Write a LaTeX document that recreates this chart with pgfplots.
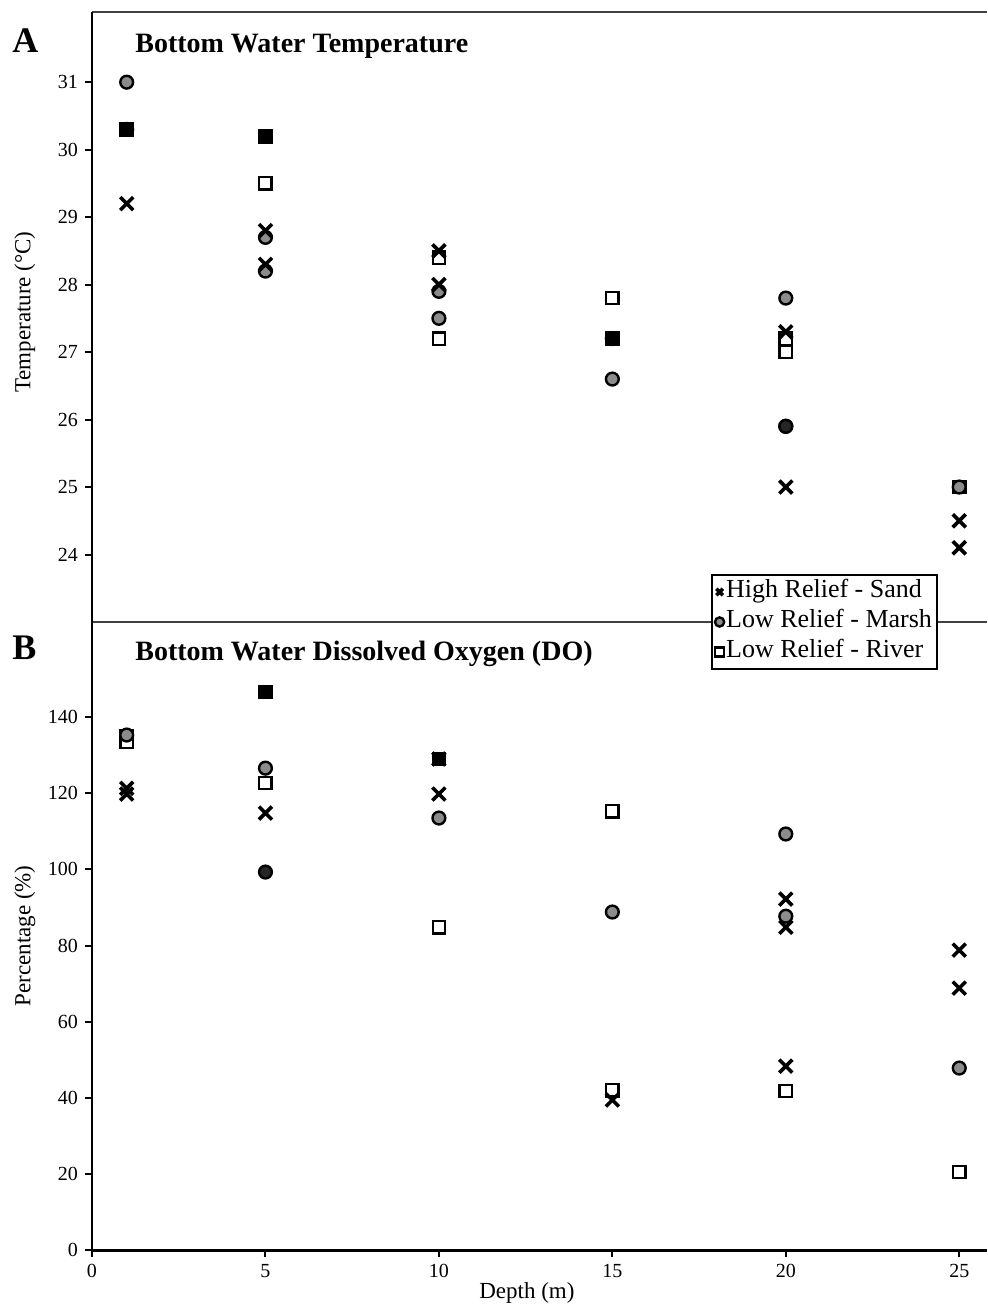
\documentclass[border=0pt]{standalone}
\usepackage{fontspec}
\setmainfont{Liberation Serif}
\usepackage{pgfplots}
\pgfplotsset{compat=1.18}
\definecolor{markgray}{RGB}{140,140,140}
\begin{document}
\begin{tikzpicture}
\useasboundingbox (-46pt,-28.5pt) rectangle (447.5pt,625pt);
\pgfplotsset{
  common/.style={
    scale only axis, width=447.5pt, xmin=0, xmax=25.8,
    axis y line*=left,
    every outer x axis line/.append style={-},
    every outer y axis line/.append style={-},
    every inner x axis line/.append style={-},
    every inner y axis line/.append style={-},
    tick align=outside, major tick length=3.5pt,
    tick style={black, line width=1pt},
    tick label style={font=\fontsize{10}{12}\selectfont},
    /pgf/number format/assume math mode=true,
    label style={font=\fontsize{11.5}{13}\selectfont},
    clip=false,
  },
  sq/.style={only marks, mark=square*, mark size=3.1pt, mark options={fill=white, draw=black, line width=1.2pt}},
  ci/.style={only marks, mark=*, mark size=3.2pt, mark options={fill=markgray, draw=black, line width=1.2pt}},
  xx/.style={only marks, mark=x, mark size=4.6pt, mark options={draw=black, line width=1.8pt}},
  dsq/.style={only marks, mark=square*, mark size=3.1pt, mark options={fill=black, draw=black, line width=1.2pt}},
  dci/.style={only marks, mark=*, mark size=3.2pt, mark options={fill=black!85, draw=black, line width=1.2pt}},
}
% ---------- Panel A ----------
\begin{axis}[common,
  at={(0pt,314pt)}, anchor=south west, height=305pt,
  ymin=23, ymax=32.04, ytick={24,25,...,31}, xtick=\empty,
  axis x line*=box,
  x axis line style={line width=1.2pt, draw=black!75},
  y axis line style={line width=1pt},
  ylabel={Temperature (\textdegree C)},
  ylabel style={at={(axis description cs:-0.0749,0.508)}, anchor=center, rotate=0},
  reverse legend,
  legend cell align=left,
  legend image code/.code={\draw[#1, mark size=2.3pt, line width=1pt] plot coordinates {(0.1cm,0cm)};},
  legend style={at={(axis description cs:0.6916,0.0787)}, anchor=north west,
    font=\fontsize{13}{15}\selectfont, draw=black, line width=1pt, fill=white,
    inner xsep=1.5pt, inner ysep=1pt, row sep=0pt, column sep=0pt,
    nodes={inner sep=1pt, text height=9.5pt, text depth=3.5pt}},
]
\addplot[sq] coordinates {(1,30.3) (5,30.2) (5,29.5) (10,28.4) (10,27.2) (15,27.8) (15,27.2) (20,27.2) (20,27.0) (25,25.0)};
\addlegendentry{Low Relief - River}
\addplot[ci] coordinates {(1,31.0) (1,30.3) (5,28.7) (5,28.2) (10,27.9) (10,27.5) (15,26.6) (15,27.2) (20,27.8) (20,25.9) (25,25.0)};
\addlegendentry{Low Relief - Marsh}
\addplot[xx] coordinates {(1,29.2) (5,28.8) (5,28.3) (10,28.5) (10,28.0) (20,27.3) (20,25.0) (25,24.5) (25,24.1)};
\addlegendentry{High Relief - Sand}
\addplot[dsq, forget plot] coordinates {(1,30.3) (5,30.2) (15,27.2)};
\addplot[dci, forget plot] coordinates {(20,25.9)};
\node[anchor=base west, inner sep=0pt, font=\fontsize{14}{16}\selectfont\bfseries] at (axis description cs:0.048,0.934) {Bottom Water Temperature};
\node[anchor=base west, inner sep=0pt, font=\fontsize{18}{20}\selectfont\bfseries] at (axis description cs:-0.0894,0.933) {A};
\end{axis}
% ---------- Panel B ----------
\begin{axis}[common,
  at={(0pt,0pt)}, anchor=south west, height=314pt,
  ymin=0, ymax=165, ytick={0,20,...,140},
  xtick={0,5,...,25},
  axis x line*=bottom,
  x axis line style={line width=1.5pt},
  y axis line style={line width=1pt},
  xlabel={Depth (m)},
  xlabel style={at={(axis description cs:0.486,0)}, anchor=center, yshift=-21.5pt},
  ylabel={Percentage (\%)},
  ylabel style={at={(axis description cs:-0.0749,0.50)}, anchor=center},
]
\addplot[sq] coordinates {(1,135.0) (1,133.5) (5,122.7) (10,84.8) (15,115.3) (15,42.0) (20,41.8) (25,20.5)};
\addplot[ci] coordinates {(1,135.3) (5,126.6) (10,113.5) (15,88.8) (20,109.3) (20,87.7) (25,47.8)};
\addplot[xx] coordinates {(1,121.3) (1,119.8) (5,114.8) (10,119.8) (15,39.4) (20,92.2) (20,84.8) (20,48.3) (25,78.8) (25,68.8)};
\addplot[dsq] coordinates {(5,146.6) (10,129.0)};
\addplot[dci] coordinates {(5,99.3)};
\addplot[xx] coordinates {(10,129.0)};
\node[anchor=base west, inner sep=0pt, font=\fontsize{14}{16}\selectfont\bfseries] at (axis description cs:0.048,0.938) {Bottom Water Dissolved Oxygen (DO)};
\node[anchor=base west, inner sep=0pt, font=\fontsize{18}{20}\selectfont\bfseries] at (axis description cs:-0.0894,0.940) {B};
\end{axis}
\end{tikzpicture}
\end{document}
